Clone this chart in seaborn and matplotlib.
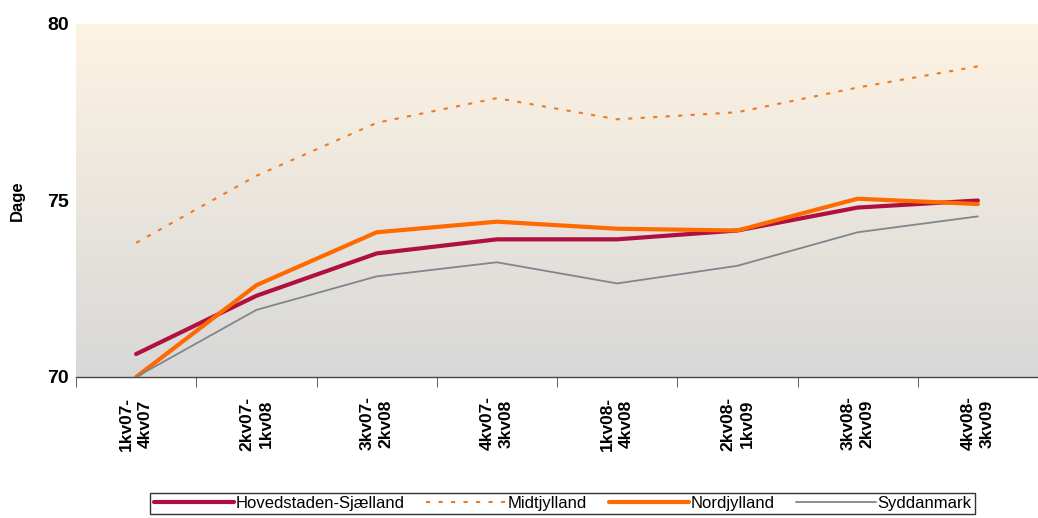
import numpy as np
import pandas as pd
import matplotlib.pyplot as plt
import seaborn as sns

periods = ['1kv07-\n4kv07', '2kv07-\n1kv08', '3kv07-\n2kv08', '4kv07-\n3kv08',
           '1kv08-\n4kv08', '2kv08-\n1kv09', '3kv08-\n2kv09', '4kv08-\n3kv09']
hovedstaden = [70.65, 72.3, 73.5, 73.9, 73.9, 74.15, 74.8, 75.0]
midtjylland = [73.8, 75.7, 77.2, 77.9, 77.3, 77.5, 78.2, 78.8]
nordjylland = [70.0, 72.6, 74.1, 74.4, 74.2, 74.15, 75.05, 74.9]
syddanmark = [70.0, 71.9, 72.85, 73.25, 72.65, 73.15, 74.1, 74.55]

sns.set_style('white', {'text.color': 'black', 'axes.labelcolor': 'black',
                        'xtick.color': 'black', 'ytick.color': 'black'})
plt.rcParams['font.family'] = ['Liberation Sans', 'DejaVu Sans']

fig = plt.figure(figsize=(10.38, 5.18), dpi=100)
ax = fig.add_axes([76 / 1038, 1 - 377 / 518, 1 - 76 / 1038, (377 - 24) / 518])

# gradient background: cream at top to grey at bottom
top = np.array([253, 243, 227]) / 255
bot = np.array([216, 216, 216]) / 255
t = np.linspace(0, 1, 256)[:, None]
grad = (top * (1 - t) + bot * t)[:, None, :]
ax.imshow(grad, extent=[0, 1, 0, 1], transform=ax.transAxes, aspect='auto', zorder=0)

series = [
    ('Hovedstaden-Sjælland', hovedstaden, '#b0103f', 3.0, '-'),
    ('Midtjylland', midtjylland, '#f07a22', 1.5, (0, (2, 4))),
    ('Nordjylland', nordjylland, '#ff6a00', 3.0, '-'),
    ('Syddanmark', syddanmark, '#7f868c', 1.3, '-'),
]
for name, vals, col, lw, ls in series:
    df = pd.DataFrame({'period': periods, 'dage': vals})
    sns.lineplot(data=df, x='period', y='dage', ax=ax, color=col, linewidth=lw,
                 linestyle=ls, label=name, sort=False, zorder=3)

ax.set_xlim(-0.5, 7.4)
ax.set_ylim(70, 80)
ax.set_yticks([70, 75, 80])
ax.set_yticklabels(['70', '75', '80'], fontsize=14, fontweight='bold', color='black')
ax.set_xticks(range(len(periods)))
ax.set_xticklabels(periods, rotation=90, fontsize=12.5, fontweight='bold', linespacing=1.35,
                   color='black')
ax.set_xticks(np.arange(-0.5, 8, 1), minor=True)
ax.tick_params(axis='x', which='major', length=0, pad=14)
ax.tick_params(axis='x', which='minor', length=7, color='#444444', direction='out', bottom=True)
ax.tick_params(axis='y', length=0, pad=5)
ax.set_xlabel('')
ax.set_ylabel('Dage', fontsize=12, fontweight='bold', labelpad=16, color='black')

for s in ['top', 'right', 'left']:
    ax.spines[s].set_visible(False)
ax.spines['bottom'].set_color('#444444')
ax.spines['bottom'].set_linewidth(1.0)

handles, labels = ax.get_legend_handles_labels()
ax.legend_.remove()
leg = fig.legend(handles, labels, loc='center', bbox_to_anchor=(0.542, 0.028), ncol=4,
                 frameon=True, fancybox=False, edgecolor='black', fontsize=12,
                 handlelength=4.8, handletextpad=0.1, columnspacing=1.3,
                 borderpad=0.2, borderaxespad=0)
leg.get_frame().set_linewidth(1.0)
for txt in leg.get_texts():
    txt.set_color('black')

fig.savefig('out.png', dpi=100)
